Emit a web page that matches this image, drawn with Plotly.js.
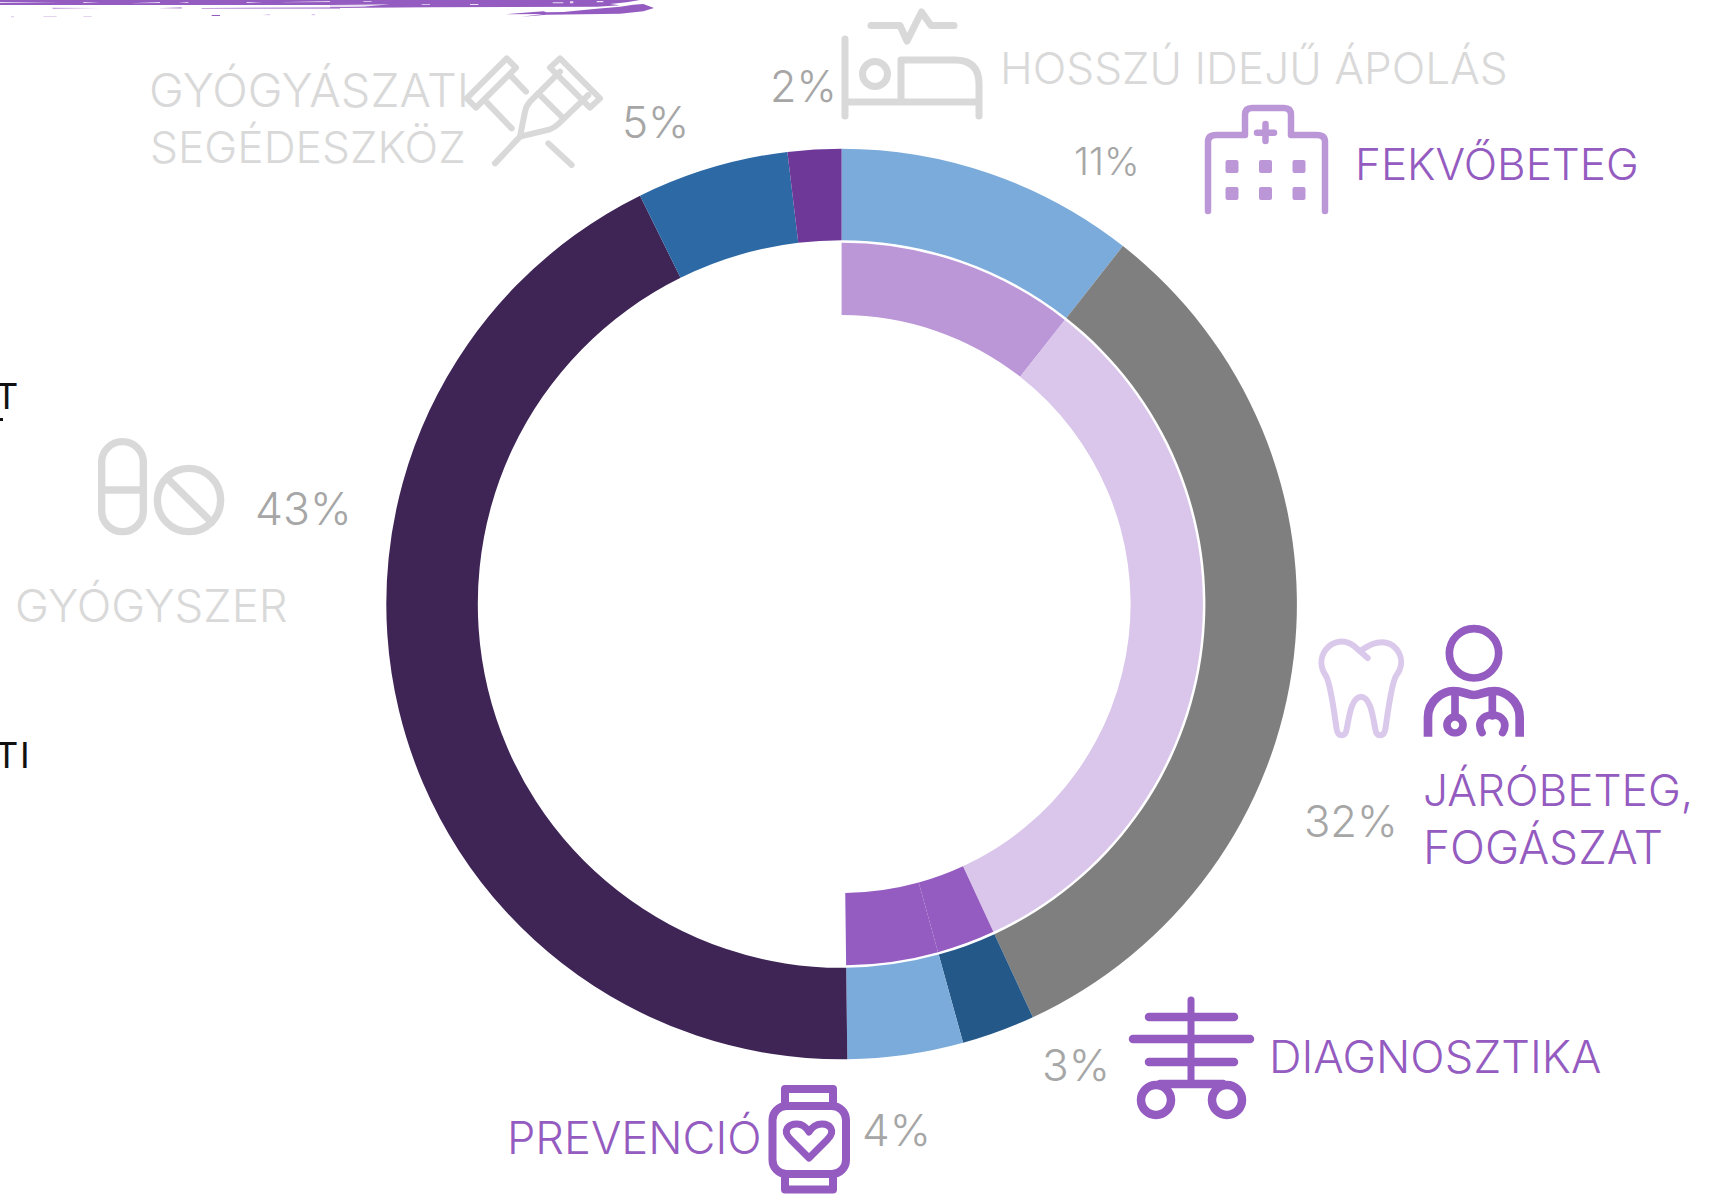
<!DOCTYPE html>
<html><head><meta charset="utf-8">
<script src="https://cdn.plot.ly/plotly-3.0.1.min.js"></script>
<style>html,body{margin:0;padding:0;background:#fff;overflow:hidden}#chart{width:1716px;height:1194px}</style>
</head><body><div id="chart"></div>
<script>
// ---- data ----
const categories = ['Fekvőbeteg','Járóbeteg, fogászat','Diagnosztika','Prevenció','Gyógyszer','Gyógyászati segédeszköz','Hosszú idejű ápolás'];
const shares = [10.6,32.5,2.6,4.1,42.9,5.4,1.9];
const outerColors = ['#7BABDB','#7F7F7F','#245888','#7BABDB','#3E2556','#2C69A5','#6E3899'];
const innerColors = ['#BC97D8','#D9C6EA','#945BC0','#945BC0','rgba(0,0,0,0)','rgba(0,0,0,0)','rgba(0,0,0,0)'];

const W = 1716, H = 1194;
const PURPLE = '#945BC0', LIGHT = '#D9D9D9', NUM = '#A6A6A6';
const FONT = 'Inter, Lato, sans-serif';

function ringDomain(cx, cy, r){
  return {x:[(cx-r)/W,(cx+r)/W], y:[1-(cy+r)/H,1-(cy-r)/H]};
}
const common = {type:'pie', labels:categories, values:shares, sort:false, direction:'clockwise', rotation:0,
  textinfo:'none', hoverinfo:'skip', showlegend:false};
const traces = [
  Object.assign({}, common, {domain:ringDomain(841.6,604,455.3), hole:363.8/455.3, marker:{colors:outerColors,line:{width:0}}}),
  Object.assign({}, common, {domain:ringDomain(841.6,604,361.3), hole:289/361.3, marker:{colors:innerColors,line:{width:0}}})
];

// ---- labels: text, left x, cap-centre y, colour, size, weight ----
const labelRows = [
  ['GYÓGYÁSZATI',149,89.5,LIGHT,46.8,300],
  ['SEGÉDESZKÖZ',150,147,LIGHT,44.3,300],
  ['5%',622,122,NUM,44,300],
  ['2%',770,86.5,NUM,43,300],
  ['HOSSZÚ IDEJŰ ÁPOLÁS',1000,68,LIGHT,44.2,300],
  ['11%',1074,161,NUM,38,300],
  ['FEKVŐBETEG',1355,163.5,PURPLE,44,300],
  ['JÁRÓBETEG,',1423,790,PURPLE,44.2,300],
  ['FOGÁSZAT',1423,847,PURPLE,46,300],
  ['32%',1304,821,NUM,43.5,300],
  ['DIAGNOSZTIKA',1269,1056.5,PURPLE,45.2,300],
  ['3%',1042,1065,NUM,44,300],
  ['PREVENCIÓ',507,1137,PURPLE,45.2,300],
  ['4%',862,1130,NUM,44,300],
  ['GYÓGYSZER',15,605,LIGHT,45.6,300],
  ['43%',255,509,NUM,44.5,300],
  ['T',-5,396,'#111111',36,400],
  ['T',-5,755,'#111111',36,400],
  ['I',20,755,'#111111',36,400]
];
const annotations = labelRows.map(r => ({
  text:r[0], xref:'paper', yref:'paper', x:r[1]/W, y:1-r[2]/H, xanchor:'left', yanchor:'middle',
  showarrow:false, borderpad:0, borderwidth:0, font:{family:FONT, size:r[4], color:r[3], weight:r[5]}
}));

// ---- pictograms, drawn in page pixels; each is an image placed on the page ----
function icon(x,y,w,h,body){
  const svg = `<svg xmlns="http://www.w3.org/2000/svg" width="${w}" height="${h}" viewBox="${x} ${y} ${w} ${h}">${body}</svg>`;
  return {source:'data:image/svg+xml;charset=utf-8,'+encodeURIComponent(svg), xref:'paper', yref:'paper',
    x:x/W, y:1-y/H, sizex:w/W, sizey:h/H, xanchor:'left', yanchor:'top', sizing:'stretch', layer:'above'};
}
const g3 = (ox,oy,c,sw,inner)=>`<g transform="translate(${ox},${oy}) scale(.33333)" fill="none" stroke="${c}" stroke-width="${sw}" stroke-linecap="round" stroke-linejoin="round">${inner}</g>`;

const images = [
  // brush stroke
  icon(0,0,670,24,
    `<g transform="scale(.33333)" fill="${PURPLE}">
      <rect x="0" y="0" width="1020" height="15"/>
      <path d="M0 6H180L0 9Z M250 6H300L250 9Z M390 10L480 6V9Z M535 6H565V9Z M740 6H790L740 9Z M830 7L1000 3V6Z" fill="#fff" opacity=".8"/>
      <path d="M155 23L300 24L160 27Z M475 25L545 21V26Z M605 24L1020 21V27L605 27Z" fill="#C9A9E0"/>
      <path d="M130 48H170V50H130Z M250 48H275V50H250Z M785 45L810 42V46Z M935 42H945V46H935Z M33 49H42V52H33Z" fill="#D9C6EA"/>
      <path d="M635 45H660V48H635Z"/>
    </g>
    <g transform="translate(330,0) scale(.33333)">
      <path d="M0 0H930L890 7L840 12L870 16L800 20L300 22L0 24Z" fill="${PURPLE}"/>
      <path d="M0 15L180 13L100 20L0 22Z M275 13H300V15H275Z M420 12H445V15H420Z M668 7H700V10H668Z M720 4H730V10H720Z M800 3H820V7H800Z M100 4H125V6H100Z" fill="#fff" opacity=".8"/>
      <path d="M525 43L640 34L650 37L700 36L800 26L870 20L910 14L940 12L972 24L940 34L870 41L650 44L575 50L640 42Z" fill="${PURPLE}"/>
    </g>`),
  // crutches
  icon(450,40,170,140, g3(450,40,LIGHT,18,
    `<path d="M170 55L198 83L78 203L50 175Z"/>
     <path d="M185 110L228 155M108 185L185 265"/>
     <path d="M330 55L450 175L420 203L300 83Z"/>
     <path d="M330 95L240 185Q228 198 225 215L210 290L300 268Q315 262 325 252L415 165"/>
     <path d="M265 160L335 230M210 290L135 370M295 310L365 375"/>`)),
  // bed
  icon(835,0,155,125,
    `<g fill="none" stroke="${LIGHT}" stroke-width="7" stroke-linecap="round" stroke-linejoin="round">
      <path d="M845 39V116M845 102H979M979 116V84Q979 60 955 60H901V102"/>
      <circle cx="875" cy="74" r="12.5"/>
      <path d="M871 25.5H900L907 41L921.5 12L931 25.5H954"/>
    </g>`),
  // hospital
  icon(1195,100,145,120,
    `<g fill="none" stroke="#BC97D8" stroke-width="6.5" stroke-linecap="round" stroke-linejoin="round">
      <path d="M1208 211V142Q1208 135 1216 135H1245V115Q1245 108 1252 108H1284Q1291 108 1291 115V135H1317Q1325 135 1325 142V211"/>
      <path d="M1265.5 124V141M1257 132.7H1274"/>
    </g>
    <g fill="#BC97D8">
      <rect x="1225.5" y="160" width="13" height="13" rx="2"/><rect x="1259" y="160" width="13" height="13" rx="2"/><rect x="1292.5" y="160" width="13" height="13" rx="2"/>
      <rect x="1225.5" y="187" width="13" height="13" rx="2"/><rect x="1259" y="187" width="13" height="13" rx="2"/><rect x="1292.5" y="187" width="13" height="13" rx="2"/>
    </g>`),
  // tooth
  icon(1310,630,100,115, g3(1280,610,'#DBC9EC',18,
    `<path d="M263 144L222 108C195 88 160 90 138 118C118 145 122 175 138 198C152 222 160 290 170 358C174 382 196 382 200 358C208 315 215 262 243 260C271 262 278 315 286 358C290 382 312 382 316 358C326 290 334 222 348 198C366 175 370 145 350 118C328 90 290 88 245 120"/>`)),
  // doctor
  icon(1415,620,130,120,
    `<defs><clipPath id="dc"><rect x="1415" y="620" width="130" height="116.7"/></clipPath></defs>
     <g clip-path="url(#dc)">`+ g3(1280,610,PURPLE,23,
    `<circle cx="582" cy="130" r="74"/>
     <path d="M444 400V322C444 270 490 243 520 243C550 243 560 255 582 255C604 255 614 243 644 243C674 243 719 270 719 322V400" stroke-width="26"/>
     <path d="M525 250V318M637 250V318"/>
     <circle cx="525" cy="345" r="24"/>
     <path d="M606 368C590 340 606 315 637 315C668 315 684 340 668 368"/>`)+`</g>`),
  // x-ray stand
  icon(1125,990,135,135,
    `<g fill="none" stroke="${PURPLE}" stroke-linecap="round">
      <path d="M1191 1000V1084" stroke-width="7"/>
      <path d="M1149 1017H1234M1133 1039H1250M1149 1062H1234M1160 1084H1223" stroke-width="8.5"/>
      <circle cx="1156" cy="1100" r="15" stroke-width="8.5"/><circle cx="1227" cy="1100" r="15" stroke-width="8.5"/>
    </g>`),
  // watch
  icon(760,1080,100,114,
    `<g fill="none" stroke="${PURPLE}" stroke-width="8" stroke-linejoin="round" stroke-linecap="round">
      <rect x="772.5" y="1106" width="73.5" height="68" rx="14"/>
      <path d="M785 1106V1089H833V1106M785 1174V1189.5H833V1174"/>
      <path d="M809 1158L791 1140C781 1130 789 1124 797 1124C803 1124 806 1127 809 1132C812 1127 816 1124 822 1124C829 1124 837 1130 827 1140Z" stroke-width="7"/>
    </g>`),
  // pills
  icon(90,430,145,115, g3(0,360,LIGHT,22,
    `<rect x="305" y="245" width="125" height="270" rx="62"/>
     <path d="M305 390H430M505 358L635 487"/>
     <circle cx="567" cy="420" r="95"/>`)),
  // fragment under the cut-off letter
  icon(0,415,6,8,`<rect x="0" y="418" width="3" height="3" fill="#111"/>`)
];

const layout = {width:W, height:H, margin:{l:0,r:0,t:0,b:0,pad:0}, paper_bgcolor:'#fff', plot_bgcolor:'#fff',
  showlegend:false, annotations:annotations, images:images};
Plotly.newPlot('chart', traces, layout, {displayModeBar:false, staticPlot:true});
</script></body></html>
